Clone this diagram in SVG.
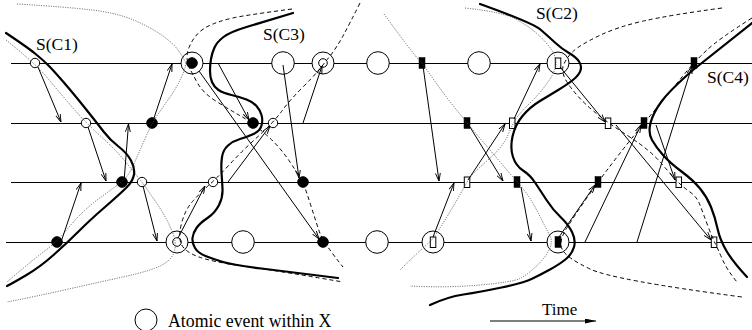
<svg xmlns="http://www.w3.org/2000/svg" width="752" height="330" viewBox="0 0 752 330">
<style>
.proc{stroke:#000;stroke-width:1;fill:none}
.msg{stroke:#000;stroke-width:1;fill:none;marker-end:url(#ah)}
.cut{fill:none;stroke:#000;stroke-width:2.2;stroke-linecap:round}
.dash{fill:none;stroke:#000;stroke-width:1;stroke-dasharray:4 3}
.dot{fill:none;stroke:#444;stroke-width:0.9;stroke-dasharray:1 1.4}
.big{fill:#fff;stroke:#000;stroke-width:1}
.sm{fill:#fff;stroke:#000;stroke-width:1}
.fd{fill:#000;stroke:#000}
.orect{fill:#fff;stroke:#000;stroke-width:1}
.frect{fill:#000;stroke:#000;stroke-width:0.5}
text{font-family:"Liberation Serif","Times New Roman",serif;fill:#000}
.lbl{font-size:17.5px}
</style>
<defs>
<marker id="ah" viewBox="0 0 8 6" refX="8" refY="3" markerWidth="8" markerHeight="6" markerUnits="userSpaceOnUse" orient="auto"><path d="M0,0.5 L8,3 L0,5.5" fill="none" stroke="#000" stroke-width="0.9"/></marker>
<marker id="ta" viewBox="0 0 11 5" refX="11" refY="2.5" markerWidth="11" markerHeight="5" markerUnits="userSpaceOnUse" orient="auto"><path d="M0,0 L11,2.5 L0,5 Z" fill="#000"/></marker>
</defs>
<rect width="752" height="330" fill="#fff"/>

<g id="processes">
<line class="proc" x1="11" y1="63.5" x2="752" y2="63.5"/>
<line class="proc" x1="11" y1="123.5" x2="752" y2="123.5"/>
<line class="proc" x1="11" y1="182.5" x2="752" y2="182.5"/>
<line class="proc" x1="6" y1="242.5" x2="752" y2="242.5"/>
</g>

<g id="events">
<g id="e1"><circle class="sm" cx="35" cy="63" r="4.7"/></g>
<g id="e2"><circle class="big" cx="192" cy="63" r="11"/><circle class="fd" cx="192" cy="63" r="5.3"/></g>
<g id="e3"><circle class="big" cx="283" cy="63" r="11.3"/></g>
<g id="e4"><circle class="big" cx="323" cy="63" r="11"/><circle class="sm" cx="323" cy="63" r="4.3"/></g>
<g id="e5"><circle class="big" cx="378" cy="63" r="11.3"/></g>
<g id="e6"><rect class="frect" x="419" y="57.5" width="6" height="11"/></g>
<g id="e7"><circle class="big" cx="479" cy="63" r="11.3"/></g>
<g id="e8"><circle class="big" cx="558" cy="63" r="11"/><rect class="orect" x="555.3" y="58" width="5.5" height="10.5"/></g>
<g id="e9"><rect class="frect" x="691" y="57.5" width="6" height="11"/></g>

<g id="e10"><circle class="sm" cx="86" cy="123" r="4.7"/></g>
<g id="e11"><circle class="fd" cx="152" cy="123" r="5.3"/></g>
<g id="e12"><circle class="fd" cx="253" cy="123" r="5.3"/></g>
<g id="e13"><circle class="sm" cx="273" cy="123" r="4.7"/></g>
<g id="e14"><rect class="frect" x="464" y="117.5" width="6" height="11"/></g>
<g id="e15"><rect class="orect" x="509.5" y="118" width="5.5" height="10.5"/></g>
<g id="e16"><rect class="orect" x="605.3" y="118" width="5.5" height="10.5"/></g>
<g id="e17"><rect class="frect" x="641" y="117.5" width="6" height="11"/></g>

<g id="e18"><circle class="fd" cx="122" cy="182" r="5.3"/></g>
<g id="e19"><circle class="sm" cx="142" cy="182" r="4.7"/></g>
<g id="e20"><circle class="sm" cx="213" cy="182" r="4.7"/></g>
<g id="e21"><circle class="fd" cx="303" cy="182" r="5.3"/></g>
<g id="e22"><rect class="orect" x="464.3" y="177" width="5.5" height="10.5"/></g>
<g id="e23"><rect class="frect" x="514" y="176.5" width="6" height="11"/></g>
<g id="e24"><rect class="frect" x="595" y="176.5" width="6" height="11"/></g>
<g id="e25"><rect class="orect" x="676" y="177" width="5.5" height="10.5"/></g>

<g id="e26"><circle class="fd" cx="57" cy="242" r="5.3"/></g>
<g id="e27"><circle class="big" cx="177" cy="242" r="11"/><circle class="sm" cx="177" cy="242" r="4.3"/></g>
<g id="e28"><circle class="big" cx="243" cy="242" r="11.3"/></g>
<g id="e29"><circle class="fd" cx="323" cy="242" r="5.3"/></g>
<g id="e30"><circle class="big" cx="377" cy="242" r="11.3"/></g>
<g id="e31"><circle class="big" cx="433" cy="242" r="11"/><rect class="orect" x="430.3" y="237" width="5.5" height="10.5"/></g>
<g id="e32"><circle class="big" cx="558" cy="242" r="11"/><rect class="frect" x="555" y="236.5" width="6" height="11"/></g>
<g id="e33"><rect class="orect" x="711.3" y="237" width="5.5" height="10.5"/></g>
</g>

<g id="boundaries">
<path class="dot" d="M17,4 Q67,7 92,10 Q117,13 133.5,20 Q150,27 161.5,35 Q173,43 178,50 Q183,57 185,61 Q187,65 182,76 Q177,87 170,97 Q163,107 157.5,115 Q152,123 146,136.5 Q140,150 135,161.5 Q130,173 126,177.5 Q122,182 102.5,196 Q83,210 70,226 Q57,242 43.5,252 Q30,262 7,282"/>
<path class="dot" d="M6,40 Q35,63 47.5,78 Q60,93 73,108 Q86,123 101,136.5 Q116,150 126.5,163 Q137,176 139.5,179 Q142,182 153.5,198.5 Q165,215 171,228.5 Q177,242 174.5,251 Q172,260 161,265.5 Q150,271 125,276.5 Q100,282 66.5,289.5 Q33,297 7,302"/>
<path class="dot" d="M384,14 Q403,40 410,49 Q417,58 419.5,60.5 Q422,63 432.5,78 Q443,93 455,108 Q467,123 478.5,136.5 Q490,150 503.5,166 Q517,182 523.5,189.5 Q530,197 538.5,213.5 Q547,230 550,236 Q553,242 549,250 Q545,258 536,266.5 Q527,275 520,278.5 Q513,282 480,285 Q447,288 410,286"/>
<path class="dot" d="M465,8 Q503,12 516.5,19.5 Q530,27 538.5,35 Q547,43 551,49 Q555,55 556,61.5 Q557,68 550,79 Q543,90 531.5,101.5 Q520,113 516.5,118 Q513,123 508,135 Q503,147 488,160 Q473,173 470,177.5 Q467,182 460,194.5 Q453,207 445,220 Q437,233 434.5,236.5 Q432,240 422.5,248.5 Q413,257 400,270"/>

<path class="dash" d="M360,3 Q350,23 343.5,35 Q337,47 330,56 Q323,65 318,71 Q313,77 301.5,88.5 Q290,100 281.5,111.5 Q273,123 258,136.5 Q243,150 230,164 Q217,178 208.5,185.5 Q200,193 192.5,201.5 Q185,210 181.5,223.5 Q178,237 181.5,244.5 Q185,252 199,257 Q213,262 243,266 Q273,270 343,282"/>
<path class="dash" d="M292,9 Q247,15 235,17.5 Q223,20 213,24 Q203,28 197.5,34 Q192,40 189,47.5 Q186,55 187.5,61 Q189,67 190.5,70 Q192,73 197.5,83 Q203,93 216.5,101.5 Q230,110 241.5,116.5 Q253,123 266.5,135 Q280,147 290,162 Q300,177 302.5,182 Q305,187 311,206 Q317,225 320,233.5 Q323,242 343,267"/>
<path class="dash" d="M722,8 Q670,15 643.5,21 Q617,27 598.5,36 Q580,45 573.5,51 Q567,57 563.5,65 Q560,73 570,86.5 Q580,100 594,111.5 Q608,123 629,136.5 Q650,150 661.5,163.5 Q673,177 678,182 Q683,187 690,192 Q697,197 700,205 Q703,213 707.5,225 Q712,237 714.5,242 Q717,247 722,258.5 Q727,270 737,282"/>
<path class="dash" d="M752,18 Q720,38 707,50 Q694,62 682,77 Q670,92 657,107.5 Q644,123 632,138 Q620,153 609,167.5 Q598,182 586.5,198.5 Q575,215 566.5,228.5 Q558,242 562.5,250 Q567,258 590,269 Q613,280 742,297"/>

<path id="SC1" class="cut" d="M6,33 Q27,47 35,53.5 Q43,60 48,65 Q53,70 63,81.5 Q73,93 85,108 Q97,123 103.5,131.5 Q110,140 118.5,146.5 Q127,153 131,160.5 Q135,168 134,174.5 Q133,181 126.5,187.5 Q120,194 105,207 Q90,220 78.5,231.5 Q67,243 53.5,255 Q40,267 26.5,275 Q13,283 7,286"/>
<path id="SC3" class="cut" d="M293,13 Q263,22 246.5,27 Q230,32 223.5,37 Q217,42 214.5,47.5 Q212,53 211,59 Q210,65 210,71 Q210,77 212,82 Q214,87 218.5,90 Q223,93 231.5,95 Q240,97 246.5,99.5 Q253,102 256.5,106 Q260,110 261.5,115 Q263,120 261.5,125.5 Q260,131 253.5,134 Q247,137 240,139 Q233,141 228,145.5 Q223,150 222,157 Q221,164 221.5,172 Q222,180 222.5,188.5 Q223,197 219,205 Q215,213 207.5,218 Q200,223 196.5,228 Q193,233 192.5,238 Q192,243 195,248 Q198,253 205.5,256 Q213,259 223,262 Q233,265 261.5,268.5 Q290,272 338,278"/>
<path id="SC2" class="cut" d="M480,4 Q533,23 541,30 Q549,37 555.5,43 Q562,49 569,53 Q576,57 579,61.5 Q582,66 580.5,70.5 Q579,75 573.5,79.5 Q568,84 559,89.5 Q550,95 540,101 Q530,107 522.5,116 Q515,125 512.5,136.5 Q510,148 513,157 Q516,166 523,170.5 Q530,175 535,182.5 Q540,190 546.5,200 Q553,210 560.5,217 Q568,224 572,232 Q576,240 574,247 Q572,254 566,259 Q560,264 550,269.5 Q540,275 531.5,279 Q523,283 501.5,287.5 Q480,292 463.5,294.5 Q447,297 430,305"/>
<path id="SC4" class="cut" d="M752,23 L693,70 Q670,90 661.5,101.5 Q653,113 650.5,123 Q648,133 652,140 Q656,147 663,155 Q670,163 681.5,171.5 Q693,180 700,188.5 Q707,197 711,207 Q715,217 717.5,228.5 Q720,240 726.5,251 Q733,262 747,277"/>
</g>

<g id="connectors">
<line class="msg" x1="38" y1="67" x2="61" y2="122"/>
<line class="msg" x1="88" y1="127" x2="106" y2="181"/>
<line class="msg" x1="124" y1="182" x2="128.5" y2="124"/>
<line class="msg" x1="61" y1="242" x2="81" y2="183"/>
<line class="msg" x1="154" y1="118" x2="172" y2="64"/>
<line class="msg" x1="143" y1="186" x2="157" y2="241"/>
<line class="msg" x1="178" y1="238" x2="205" y2="186"/>
<line class="msg" x1="218" y1="63" x2="249" y2="120"/>
<line class="msg" x1="199" y1="71" x2="319" y2="239"/>
<line class="msg" x1="283" y1="65" x2="299" y2="178"/>
<line class="msg" x1="228" y1="182" x2="270" y2="126"/>
<line class="msg" x1="303" y1="123" x2="322" y2="66"/>

<line class="msg" x1="423" y1="66" x2="439" y2="181"/>
<line class="msg" x1="470" y1="127" x2="503" y2="181"/>
<line class="msg" x1="468" y1="180" x2="505" y2="124"/>
<line class="msg" x1="433" y1="237" x2="454" y2="183"/>
<line class="msg" x1="514" y1="119" x2="540" y2="64"/>
<line class="msg" x1="521" y1="187" x2="531" y2="241"/>
<line class="msg" x1="560" y1="67" x2="605" y2="122"/>
<line class="msg" x1="559" y1="237" x2="595" y2="185"/>
<line class="msg" x1="585" y1="242" x2="641" y2="125"/>
<line class="msg" x1="656" y1="125" x2="675" y2="180"/>
<line class="msg" x1="616" y1="125" x2="711" y2="240"/>
<line class="msg" x1="637" y1="242" x2="692" y2="66"/>
</g>

<g id="labels">
<text class="lbl" x="36" y="50">S(C1)</text>
<text class="lbl" x="263" y="40">S(C3)</text>
<text class="lbl" x="536" y="19">S(C2)</text>
<text class="lbl" x="707" y="83">S(C4)</text>
</g>

<g id="legend">
<circle class="big" cx="146" cy="320" r="11"/>
<text x="168" y="327" style="font-size:17.8px">Atomic event within X</text>
</g>
<g id="time">
<text x="542" y="315" style="font-size:17px">Time</text>
<line x1="490" y1="321" x2="596" y2="321" stroke="#000" stroke-width="1.2" marker-end="url(#ta)"/>
</g>
</svg>
